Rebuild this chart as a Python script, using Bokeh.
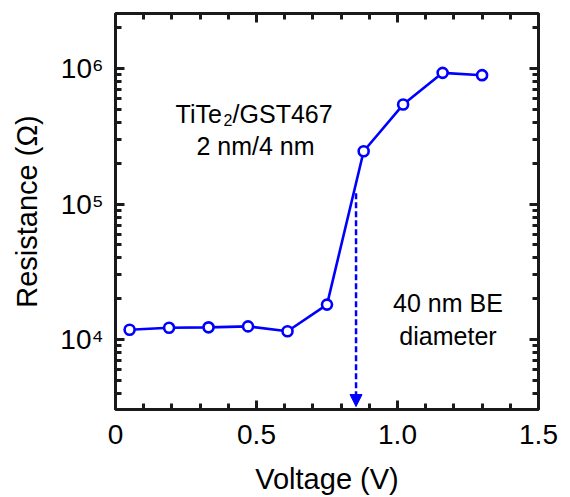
from bokeh.plotting import figure
from bokeh.models import (FixedTicker, LinearAxis, LogAxis, Label, Arrow,
                          NormalHead, Range1d)
from bokeh.embed import file_html
from bokeh.resources import INLINE

# Measured resistance after each programming pulse
voltage = [0.05, 0.19, 0.33, 0.47, 0.61, 0.75, 0.88, 1.02, 1.16, 1.30]
resistance = [1.18e4, 1.22e4, 1.23e4, 1.25e4, 1.15e4, 1.81e4,
              2.45e5, 5.42e5, 9.29e5, 8.93e5]

# Threshold marker
threshold_v = 0.853
threshold_r_top = 1.2e5
threshold_r_bottom = 3.2e3

# Axis extents
x_lo, x_hi = 0.0, 1.5
y_lo, y_hi = 3.044e3, 2.547e6

x_ticks = [0, 0.5, 1.0, 1.5]
x_tick_labels = ["0", "0.5", "1.0", "1.5"]
x_minor = [0.1, 0.2, 0.3, 0.4, 0.6, 0.7, 0.8, 0.9, 1.1, 1.2, 1.3, 1.4]
y_ticks = [1e4, 1e5, 1e6]
y_tick_labels = ["10\u2074", "10\u2075", "10\u2076"]
y_minor = [4e3, 5e3, 6e3, 7e3, 8e3, 9e3,
           2e4, 3e4, 4e4, 5e4, 6e4, 7e4, 8e4, 9e4,
           2e5, 3e5, 4e5, 5e5, 6e5, 7e5, 8e5, 9e5, 2e6]

FONT = "Liberation Sans"
BLUE = "#0000FF"
INK = "#1a1a1a"

p = figure(width=570, height=497, output_backend="svg", toolbar_location=None,
           y_axis_type="log", x_range=Range1d(x_lo, x_hi),
           y_range=Range1d(y_lo, y_hi),
           min_border_left=115, min_border_right=32,
           min_border_top=13, min_border_bottom=88)
p.xgrid.visible = False
p.ygrid.visible = False
p.outline_line_color = INK
p.outline_line_width = 3
p.background_fill_color = None
p.border_fill_color = "white"

x_ticker = FixedTicker(ticks=x_ticks, minor_ticks=x_minor)
y_ticker = FixedTicker(ticks=y_ticks, minor_ticks=y_minor)


def style_axis(ax, show_labels):
    # ticks point into the frame only
    ax.axis_line_color = None
    ax.major_tick_in = 9
    ax.major_tick_out = 0
    ax.minor_tick_in = 6
    ax.minor_tick_out = 0
    ax.major_tick_line_color = INK
    ax.minor_tick_line_color = INK
    ax.major_tick_line_width = 3
    ax.minor_tick_line_width = 3
    if show_labels:
        ax.major_label_text_font = FONT
        ax.major_label_text_font_size = "28px"
        ax.major_label_text_color = "black"
        ax.axis_label_text_font = FONT
        ax.axis_label_text_font_size = "29px"
        ax.axis_label_text_font_style = "normal"
        ax.axis_label_text_color = "black"
    else:
        ax.major_label_text_font_size = "1px"
        ax.major_label_text_color = None
        ax.major_label_standoff = 0


xa = p.xaxis[0]
xa.ticker = x_ticker
xa.major_label_overrides = dict(zip(x_ticks, x_tick_labels))
xa.axis_label = "Voltage (V)"
xa.major_label_standoff = 15
xa.axis_label_standoff = 16
style_axis(xa, True)

ya = p.yaxis[0]
ya.ticker = y_ticker
ya.major_label_overrides = dict(zip(y_ticks, y_tick_labels))
ya.axis_label = "Resistance (\u03a9)"
ya.major_label_standoff = 12
ya.axis_label_standoff = 14
style_axis(ya, True)

# Mirrored tick rows on the top and right edges
top = LinearAxis(ticker=x_ticker)
style_axis(top, False)
p.add_layout(top, "above")
right = LogAxis(ticker=y_ticker)
style_axis(right, False)
p.add_layout(right, "right")

# Resistance curve
p.line(voltage, resistance, line_color=BLUE, line_width=2.6)
p.scatter(voltage, resistance, marker="circle", size=10,
          fill_color="white", line_color=BLUE, line_width=2.6)

# Dashed threshold arrow
p.add_layout(Arrow(x_start=threshold_v, y_start=threshold_r_top,
                   x_end=threshold_v, y_end=threshold_r_bottom,
                   line_color=BLUE, line_width=2.5, line_dash="6 3",
                   end=NormalHead(size=12, fill_color=BLUE,
                                  line_color=BLUE, line_width=1)))

# Sample annotations
txt = dict(text_font=FONT, text_font_size="25px", text_color="black",
           text_baseline="alphabetic")
p.add_layout(Label(x=0.213, y=4.58e5, text="TiTe", text_align="left", **txt))
p.add_layout(Label(x=0.213, y=4.58e5, x_offset=48, y_offset=-6, text="2",
                   text_align="left", text_font=FONT, text_font_size="16px",
                   text_color="black", text_baseline="alphabetic"))
p.add_layout(Label(x=0.213, y=4.58e5, x_offset=57, text="/GST467",
                   text_align="left", **txt))
p.add_layout(Label(x=0.4965, y=2.66e5, text="2 nm/4 nm",
                   text_align="center", **txt))
p.add_layout(Label(x=1.179, y=1.844e4, text="40 nm BE",
                   text_align="center", **txt))
p.add_layout(Label(x=1.179, y=1.07e4, text="diameter",
                   text_align="center", **txt))

open("out.html", "w").write(file_html(p, INLINE))
